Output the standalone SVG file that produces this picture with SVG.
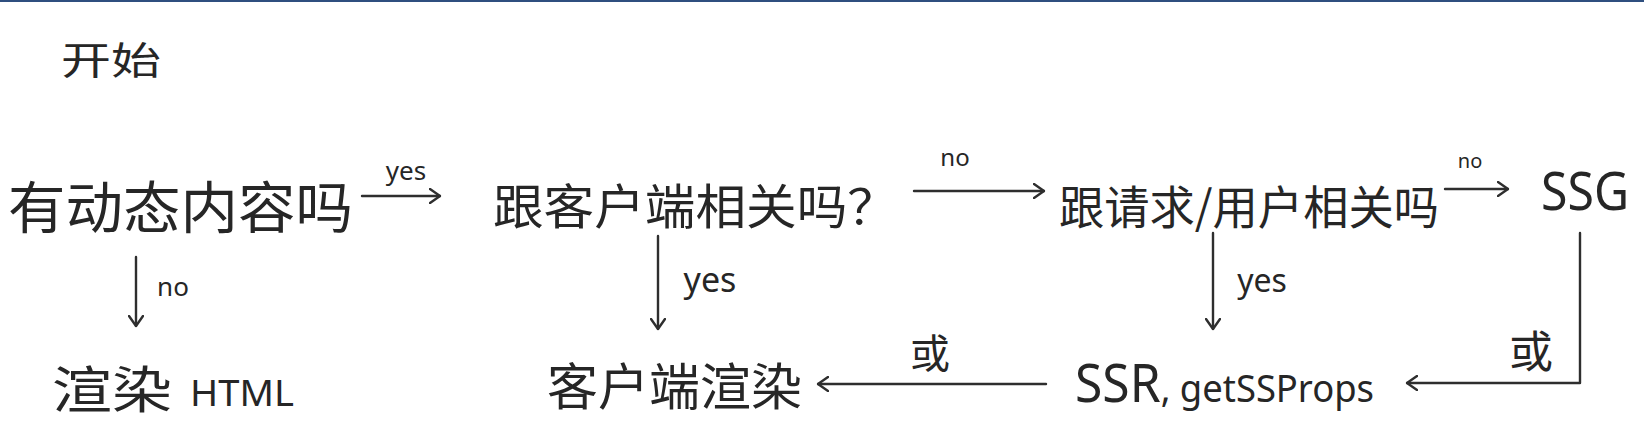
<svg xmlns="http://www.w3.org/2000/svg" width="1644" height="436" viewBox="0 0 1644 436">
<style>
.t{font-family:"Noto Sans CJK SC","Noto Sans",sans-serif;fill:#262626;font-weight:400}
.l{font-family:"Noto Sans","DejaVu Sans",sans-serif;fill:#262626;font-weight:400}
.c{fill:none;stroke:#2e2e2e;stroke-width:2.4;stroke-linecap:round;stroke-linejoin:round}
</style>
<defs>
<marker id="ah" viewBox="0 0 12 16" refX="11" refY="8" markerWidth="12" markerHeight="16" markerUnits="userSpaceOnUse" orient="auto"><path d="M1,1 L11,8 L1,15" fill="none" stroke="#2e2e2e" stroke-width="2.4" stroke-linecap="round" stroke-linejoin="round"/></marker>
</defs>
<rect width="1644" height="436" fill="#ffffff"/>
<line x1="0" y1="1" x2="1644" y2="1" stroke="#2f4f7f" stroke-width="2"/>
<g id="connectors">
<path class="c" d="M362,196 L440,196" marker-end="url(#ah)"/>
<path class="c" d="M914,191 L1044,191" marker-end="url(#ah)"/>
<path class="c" d="M1445,189 L1508,189" marker-end="url(#ah)"/>
<path class="c" d="M136,257 L136,326" marker-end="url(#ah)"/>
<path class="c" d="M658,236 L658,329" marker-end="url(#ah)"/>
<path class="c" d="M1213,233 L1213,329" marker-end="url(#ah)"/>
<path class="c" d="M1580,233 L1580,383 L1407,383" marker-end="url(#ah)"/>
<path class="c" d="M1046,384 L818,384" marker-end="url(#ah)"/>
<text class="l" x="406" y="180" font-size="26" text-anchor="middle">yes</text>
<text class="l" x="955" y="166" font-size="24" text-anchor="middle">no</text>
<text class="l" x="1470" y="168" font-size="20" text-anchor="middle">no</text>
<text class="l" x="173" y="296" font-size="26" text-anchor="middle">no</text>
<text class="l" x="710" y="292" font-size="34" text-anchor="middle">yes</text>
<text class="l" x="1262" y="292" font-size="32" text-anchor="middle">yes</text>
<text class="t" x="930" y="368" font-size="40" text-anchor="middle">或</text>
<text class="t" x="1531" y="368" font-size="44" text-anchor="middle">或</text>
</g>
<g id="start"><text class="t" x="61" y="74" font-size="38" textLength="100" lengthAdjust="spacingAndGlyphs">开始</text></g>
<g id="q-dynamic"><text class="t" x="8" y="228" font-size="56" textLength="345" lengthAdjust="spacingAndGlyphs">有动态内容吗</text></g>
<g id="q-client"><text class="t" x="493" y="224" font-size="48" textLength="405" lengthAdjust="spacingAndGlyphs">跟客户端相关吗？</text></g>
<g id="q-request"><text class="t" x="1059" y="224" font-size="46" textLength="380" lengthAdjust="spacingAndGlyphs">跟请求/用户相关吗</text></g>
<g id="ssg"><text class="l" x="1541" y="210" font-size="52" textLength="88" lengthAdjust="spacingAndGlyphs">SSG</text></g>
<g id="render-html"><text class="t" x="52" y="408" font-size="50" textLength="120" lengthAdjust="spacingAndGlyphs">渲染</text><text class="l" x="190" y="406" font-size="36" textLength="104" lengthAdjust="spacingAndGlyphs">HTML</text></g>
<g id="client-render"><text class="t" x="547" y="405" font-size="50" textLength="255" lengthAdjust="spacingAndGlyphs">客户端渲染</text></g>
<g id="ssr"><text class="l" x="1075" y="402" font-size="52" textLength="299" lengthAdjust="spacingAndGlyphs"><tspan>SSR</tspan><tspan font-size="38">, getSSProps</tspan></text></g>
</svg>
